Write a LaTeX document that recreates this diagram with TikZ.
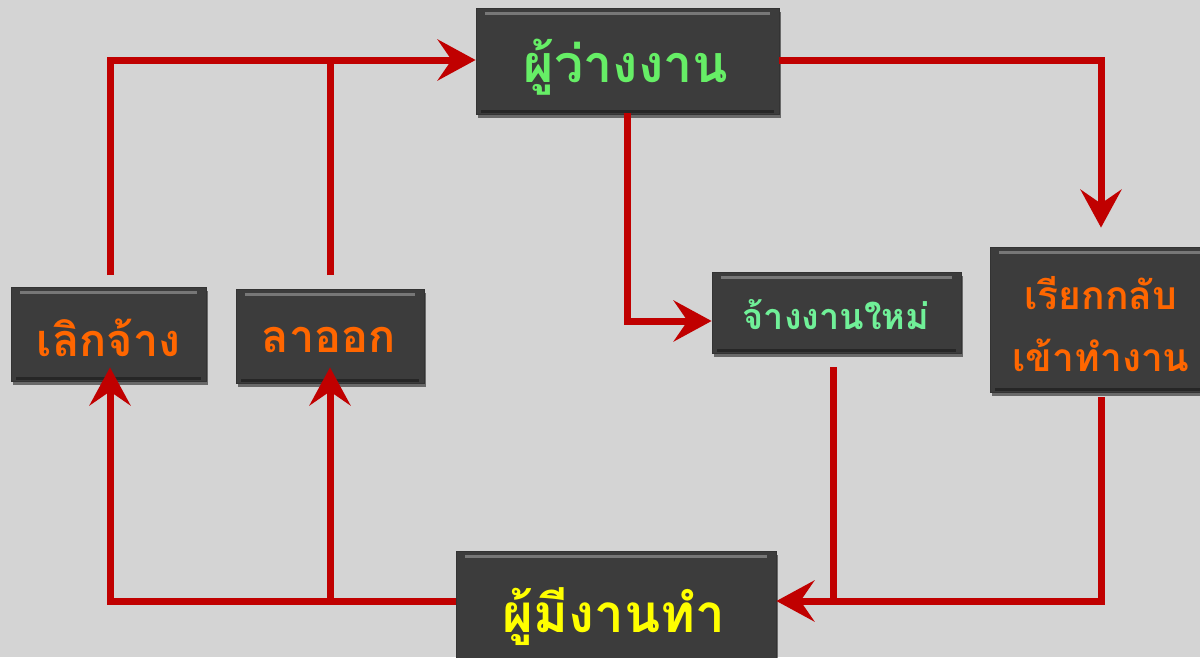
\documentclass[tikz,border=0pt]{standalone}
\usepackage{fontspec}
\newfontfamily\thai[Script=Thai]{Loma}
\usetikzlibrary{arrows.meta,shadows}
\definecolor{bg}{HTML}{D4D4D4}
\definecolor{boxgray}{HTML}{3C3C3C}
\definecolor{linered}{HTML}{C00000}
\definecolor{tgreen}{HTML}{66EE66}
\definecolor{tgreenb}{HTML}{70F098}
\definecolor{torange}{HTML}{FF6600}
\definecolor{tyellow}{HTML}{FFFF00}
\tikzset{
  bevelbox/.style={rectangle, fill=boxgray, draw=black!80, line width=0.8pt,
    inner sep=0pt, align=center,
    drop shadow={shadow xshift=2pt, shadow yshift=-4pt, opacity=0.5, fill=black},
    path picture={
      \draw[line width=3pt, white!30!boxgray]
        ([xshift=9pt,yshift=-5pt]path picture bounding box.north west) --
        ([xshift=-9pt,yshift=-5pt]path picture bounding box.north east);
      \draw[line width=3pt, black!85]
        ([xshift=5pt,yshift=3pt]path picture bounding box.south west) --
        ([xshift=-5pt,yshift=3pt]path picture bounding box.south east);
    }},
  conn/.style={draw=linered, line width=7pt},
  tip/.style={-{Stealth[length=38pt,width=41pt,inset=14pt]}}
}
\begin{document}
\begin{tikzpicture}[x=1pt,y=-1pt]
\clip (0,0) rectangle (1200,657);
\fill[bg] (0,0) rectangle (1200,657);
% boxes
\node[bevelbox, minimum width=303pt, minimum height=106pt] (unemp) at (627.5,61) {};
\node[text=tgreen, font=\thai\bfseries\fontsize{52}{58}\selectfont, inner sep=0pt] (unempT) at (626,67) {ผู้ว่างงาน};
\node[bevelbox, minimum width=195pt, minimum height=94pt] (lek) at (108.5,334) {};
\node[text=torange, font=\thai\bfseries\fontsize{45}{50}\selectfont, inner sep=0pt] (lekT) at (108.5,338) {เลิกจ้าง};
\node[bevelbox, minimum width=188pt, minimum height=94pt] (lao) at (330,336) {};
\node[text=torange, font=\thai\bfseries\fontsize{45}{50}\selectfont, inner sep=0pt] (laoT) at (329,340) {ลาออก};
\node[bevelbox, minimum width=249pt, minimum height=81pt] (new) at (836.5,312.5) {};
\node[text=tgreenb, font=\thai\bfseries\fontsize{36}{42}\selectfont, inner sep=0pt] (newT) at (836,315) {จ้างงานใหม่};
\node[bevelbox, minimum width=222pt, minimum height=145pt] (recall) at (1101,319.5) {};
\node[text=torange, font=\thai\bfseries\fontsize{39}{62}\selectfont, inner sep=0pt, align=center] (recallT) at (1101,324) {เรียกกลับ\\เข้าทำงาน};
\node[bevelbox, minimum width=320pt, minimum height=120pt] (emp) at (616,611) {};
\node[text=tyellow, font=\thai\bfseries\fontsize{53}{58}\selectfont, inner sep=0pt] (empT) at (614,617) {ผู้มีงานทำ};
% free-end coordinates
\coordinate (lekTop) at (110,275);
\coordinate (laoTop) at (330,275);
\coordinate (newBot) at (833,367);
\coordinate (recBot) at (1101,397);
\coordinate (unBot) at (627,113);
\coordinate (unIn) at ([yshift=1pt]unemp.west);
% connectors
\draw[conn,tip] (lekTop) |- (unIn);
\draw[conn] (laoTop) -- (laoTop |- unIn);
\draw[conn,tip] (unemp.east |- unIn) -| ([yshift=19pt]recall.north -| recBot);
\draw[conn,tip] (unBot) |- (new.west |- 0,321);
\draw[conn,tip] (newBot) |- (emp.east |- 0,601);
\draw[conn] (recBot) |- (newBot |- 0,601);
\draw[conn,tip] (emp.west |- 0,601) -| ([yshift=14pt]lek.south -| lekTop);
\draw[conn,tip] (laoTop |- 0,601) -- ([yshift=16pt]lao.south);
\end{tikzpicture}
\end{document}
